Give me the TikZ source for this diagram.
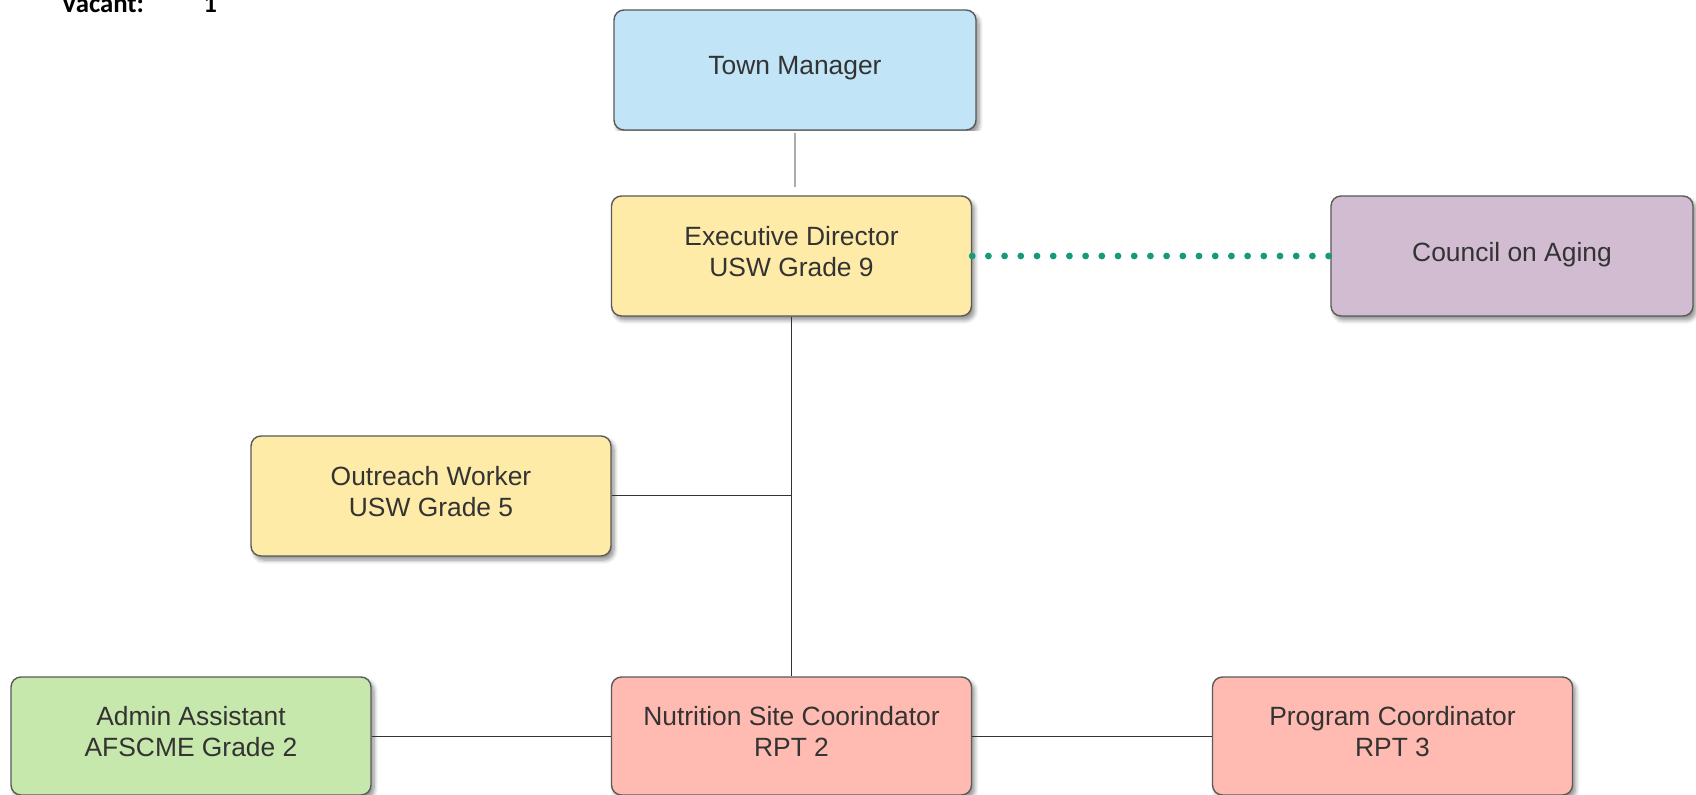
\documentclass[tikz,border=0pt]{standalone}
\usepackage{fontspec}
\setmainfont{Liberation Sans}
\newfontfamily\vacfont{Carlito}
\usetikzlibrary{shadows.blur}
\definecolor{tmblue}{HTML}{C1E4F7}
\definecolor{yel}{HTML}{FFEBA8}
\definecolor{purp}{HTML}{D1BCD2}
\definecolor{grn}{HTML}{C7E8AC}
\definecolor{sal}{HTML}{FFBBB1}
\definecolor{bord}{HTML}{5A5A5A}
\definecolor{txt}{HTML}{333333}
\definecolor{teal}{HTML}{179A7C}
\tikzset{
  box/.style={draw=bord, line width=0.7pt, rounded corners=5pt,
    minimum width=180pt, minimum height=60pt, align=center,
    text=txt, font=\fontsize{13.2}{15.5}\selectfont, text depth=4.5pt,
    blur shadow={shadow xshift=1.5pt, shadow yshift=-2pt, shadow blur steps=6, shadow opacity=45}},
  conn/.style={draw=txt, line width=0.5pt},
  dotline/.style={draw=teal, line width=3.4pt, line cap=round, dash pattern=on 0pt off 8.1pt},
  vac/.style={font=\vacfont\bfseries\fontsize{13.4}{16}\selectfont, text=black, inner sep=0pt}
}
\begin{document}
\begin{tikzpicture}[x=0.5pt,y=-0.5pt]
\useasboundingbox (0,0) rectangle (1696,795);
\node[vac, anchor=base west] (vac) at (61,13) {Vacant:};
\node[vac, anchor=base west] (vacn) at (203,13) {1};
\node[box, fill=tmblue, minimum width=181pt] (tm) at (795,70) {Town Manager};
\fill[white] (600,131) rectangle (1000,190);
\node[box, fill=yel] (ed) at (791.5,256) {Executive Director\\USW Grade 9};
\node[box, fill=purp, minimum width=181pt] (coa) at (1512,256) {Council on Aging};
\node[box, fill=yel] (ow) at (431,496) {Outreach Worker\\USW Grade 5};
\node[box, fill=grn, minimum height=59pt] (aa) at (191,736) {Admin Assistant\\AFSCME Grade 2};
\node[box, fill=sal, minimum height=59pt] (nsc) at (791.5,736) {Nutrition Site Coorindator\\RPT 2};
\node[box, fill=sal, minimum height=59pt] (pc) at (1392.5,736) {Program Coordinator\\RPT 3};
\coordinate (tmb) at (795,133);
\coordinate (edt) at (795,187);
\draw[draw=gray!65, line width=1.2pt] (tmb) -- (edt);
\draw[dotline] (ed.east) -- (coa.west);
\draw[conn] (ed.south) -- (nsc.north);
\draw[conn] (ow.east) -- (ed.south |- ow.east);
\draw[conn] (aa.east) -- (nsc.west);
\draw[conn] (nsc.east) -- (pc.west);
\end{tikzpicture}
\end{document}
